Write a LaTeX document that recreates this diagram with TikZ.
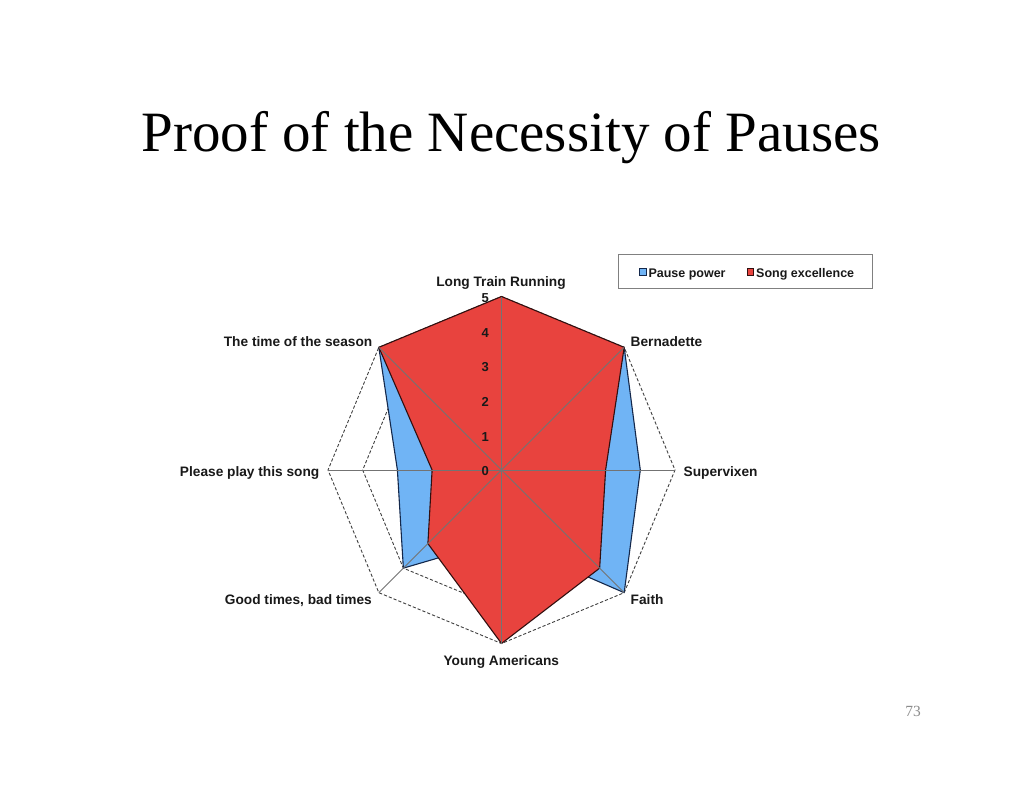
\documentclass[tikz,border=0pt]{standalone}
\usepackage{fontspec}
\setmainfont{Liberation Serif}
\newfontfamily\lsans{Liberation Sans}
\definecolor{redfill}{RGB}{232,67,62}
\definecolor{bluefill}{RGB}{112,180,245}
\definecolor{redline}{RGB}{50,15,15}
\definecolor{blueline}{RGB}{20,40,75}
\begin{document}
\begin{tikzpicture}[x=1pt,y=1pt,
  lbl/.style={font=\lsans\bfseries\fontsize{13.7}{16}\selectfont, inner sep=0pt, text=black!90},
  tick/.style={font=\lsans\bfseries\fontsize{13}{15}\selectfont, inner sep=0pt, anchor=east, text=black!90},
  leg/.style={font=\lsans\bfseries\fontsize{12.5}{15}\selectfont, inner sep=0pt, anchor=base west, text=black!90},
  gridline/.style={draw=black!75, dash pattern=on 3.2pt off 2pt, line width=0.9pt},
  axisline/.style={draw=black!55, line width=0.9pt},
  marker/.style={minimum size=6.5pt, inner sep=0pt, line width=0.7pt}]
\useasboundingbox[fill=white] (0,0) rectangle (1024,-791);

\node[font=\fontsize{57}{60}\selectfont, anchor=base, inner sep=0pt] (title) at (511,-152) {Proof of the Necessity of Pauses};

\begin{scope}[shift={(501.5,-470)}]
  \coordinate (c) at (0,0);
  \foreach \a in {0,45,...,315} \coordinate (e\a) at (\a:173.5);
  % grid octagons
  \foreach \k in {1,...,5}
    \draw[gridline] (90:{\k*34.7}) -- (45:{\k*34.7}) -- (0:{\k*34.7}) -- (-45:{\k*34.7})
      -- (-90:{\k*34.7}) -- (-135:{\k*34.7}) -- (180:{\k*34.7}) -- (135:{\k*34.7}) -- cycle;
  % Pause power
  \path[fill=bluefill, draw=blueline, line width=1.1pt, line join=round]
    (90:138.8) -- (45:173.5) -- (0:138.8) -- (-45:173.5) -- (-90:69.4)
    -- (-135:138.8) -- (180:104.1) -- (135:173.5) -- cycle;
  % Song excellence
  \path[fill=redfill, draw=redline, line width=1.1pt, line join=round]
    (90:173.5) -- (45:173.5) -- (0:104.1) -- (-45:138.8) -- (-90:173.5)
    -- (-135:104.1) -- (180:69.4) -- (135:173.5) -- cycle;
  % axes
  \foreach \a in {0,45,...,315} \draw[axisline] (c) -- (e\a);
  % ticks
  \foreach \k in {0,...,5} \node[tick] (t\k) at (-12.5,{\k*34.7-1.5}) {\k};
\end{scope}

% category labels
\node[lbl, anchor=base] (ltr) at (501,-286.5) {Long Train Running};
\node[lbl, anchor=base west] (bern) at (630.5,-346.7) {Bernadette};
\node[lbl, anchor=base west] (sup) at (683.5,-476.7) {Supervixen};
\node[lbl, anchor=base west] (faith) at (630.5,-604.3) {Faith};
\node[lbl, anchor=base] (ya) at (501.3,-665) {Young Americans};
\node[lbl, anchor=base east] (good) at (372,-604) {Good times, bad times};
\node[lbl, anchor=base east] (please) at (319.5,-476.7) {Please play this song};
\node[lbl, anchor=base east] (tots) at (372.5,-346.7) {The time of the season};

% legend
\node[draw=black!50, line width=1pt, minimum width=254pt, minimum height=33.5pt, inner sep=0pt] (legend) at (745.5,-271.75) {};
\node[marker, draw=blueline, fill=bluefill] (mb) at (642.7,-271.8) {};
\node[leg] (lb) at (648.3,-277.3) {Pause power};
\node[marker, draw=redline, fill=redfill] (mr) at (750.2,-271.8) {};
\node[leg] (lr) at (756,-277.3) {Song excellence};

% page number
\node[font=\fontsize{15.5}{17}\selectfont, text=black!45, anchor=base, inner sep=0pt] (pg) at (913,-716.7) {73};
\end{tikzpicture}
\end{document}
